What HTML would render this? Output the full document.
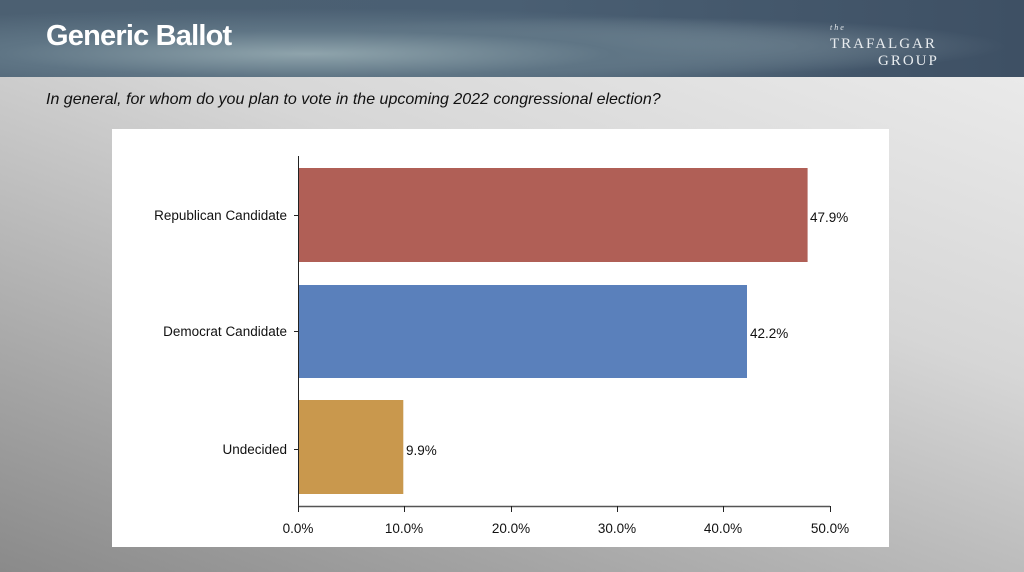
<!DOCTYPE html>
<html><head><style>
body{margin:0;width:1024px;height:572px;overflow:hidden;font-family:"Liberation Sans",sans-serif;position:relative;
background:linear-gradient(20deg,#8a8a8a 0%,#b0b0b0 30%,#d6d6d6 60%,#efefef 100%);}
#hdr{position:absolute;left:0;top:0;width:1024px;height:77px;
background:radial-gradient(ellipse at 30% 70%,#8fa4ac 0%,#5f7585 30%,transparent 60%),radial-gradient(ellipse at 60% 60%,#7d909c 0%,transparent 45%),linear-gradient(90deg,#4c6072,#4a5f73 50%,#3e5064);}
#title{position:absolute;left:46px;top:20px;color:#fff;font-size:29px;font-weight:bold;letter-spacing:-0.8px;}
#logo{position:absolute;left:830px;top:18px;color:#e8ecef;font-family:"Liberation Serif",serif;font-size:15px;letter-spacing:2px;line-height:17px;}
#q{position:absolute;left:46px;top:91px;font-size:16px;font-style:italic;color:#111;}
#panel{position:absolute;left:112px;top:129px;width:777px;height:418px;background:#fff;}
</style></head><body>
<div id="hdr"></div>
<div id="title">Generic Ballot</div>
<div id="logo"><span style="font-size:8px;font-style:italic">the</span><br>TRAFALGAR<br><span style="padding-left:48px">GROUP</span></div>
<div id="q">In general, for whom do you plan to vote in the upcoming 2022 congressional election?</div>
<div id="panel"></div>
<svg width="1024" height="572" style="position:absolute;left:0;top:0">
<rect x="298" y="168" width="509.6" height="94" fill="#b05f56"/>
<rect x="298" y="285" width="449" height="93" fill="#5a80bb"/>
<rect x="298" y="400" width="105.3" height="94" fill="#c9984d"/>
<line x1="298.5" y1="156" x2="298.5" y2="507" stroke="#222" stroke-width="1"/>
<line x1="298" y1="506.5" x2="830" y2="506.5" stroke="#555" stroke-width="1.5"/>
<g stroke="#222" stroke-width="1">
<line x1="298.5" y1="506" x2="298.5" y2="512"/><line x1="404.5" y1="506" x2="404.5" y2="512"/>
<line x1="511.5" y1="506" x2="511.5" y2="512"/><line x1="617.5" y1="506" x2="617.5" y2="512"/>
<line x1="723.5" y1="506" x2="723.5" y2="512"/><line x1="830.5" y1="506" x2="830.5" y2="512"/>
<line x1="294" y1="215.5" x2="298" y2="215.5"/><line x1="294" y1="331.5" x2="298" y2="331.5"/><line x1="294" y1="449.5" x2="298" y2="449.5"/>
</g>
<g font-family="Liberation Sans,sans-serif" font-size="13.5" fill="#111">
<text x="287" y="220" text-anchor="end">Republican Candidate</text>
<text x="287" y="336" text-anchor="end">Democrat Candidate</text>
<text x="287" y="454" text-anchor="end">Undecided</text>
<text x="810" y="222">47.9%</text>
<text x="750" y="338">42.2%</text>
<text x="406" y="455">9.9%</text>
<g text-anchor="middle">
<text x="298" y="533">0.0%</text><text x="404" y="533">10.0%</text><text x="511" y="533">20.0%</text>
<text x="617" y="533">30.0%</text><text x="723" y="533">40.0%</text><text x="830" y="533">50.0%</text>
</g></g>
</svg>
</body></html>
